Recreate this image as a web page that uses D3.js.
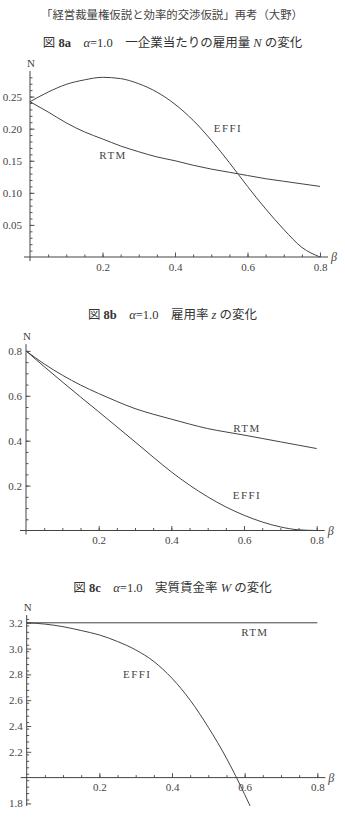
<!DOCTYPE html>
<html>
<head>
<meta charset="utf-8">
<script src="https://cdn.jsdelivr.net/npm/d3@7"></script>
<style>
  body { margin: 0; background: #fff; }
  text { font-family: "Times New Roman", "Liberation Serif", "DejaVu Serif", serif; fill: #444; }
  .tick text { font-size: 11px; fill: #444; font-family: "Times New Roman", "Liberation Serif", "DejaVu Serif", serif; }
  .jp { font-family: "Times New Roman", "Liberation Serif", "Noto Sans CJK JP", serif; }
</style>
</head>
<body>
<svg id="fig" width="345" height="834"></svg>
<script>
// beta grid used by the curves
var betaA = [0, 0.05, 0.1, 0.15, 0.2, 0.25, 0.3, 0.35, 0.4, 0.45, 0.5, 0.55, 0.6, 0.65, 0.7, 0.75, 0.8];
// Fig 8a: employment per firm N
var effiA = [0.242, 0.257, 0.269, 0.276, 0.280, 0.278, 0.270, 0.257, 0.238, 0.213, 0.182, 0.147, 0.110, 0.075, 0.043, 0.015, 0.0];
var rtmA  = [0.242, 0.226, 0.209, 0.195, 0.184, 0.173, 0.164, 0.156, 0.150, 0.143, 0.137, 0.132, 0.127, 0.122, 0.118, 0.114, 0.110];
// Fig 8b: employment rate z
var effiB = [0.8, 0.73, 0.662, 0.595, 0.529, 0.462, 0.395, 0.327, 0.261, 0.202, 0.150, 0.105, 0.068, 0.038, 0.016, 0.003, 0.0];
var rtmB  = [0.8, 0.742, 0.692, 0.648, 0.610, 0.575, 0.543, 0.518, 0.496, 0.474, 0.454, 0.439, 0.425, 0.410, 0.395, 0.380, 0.365];
// Fig 8c: real wage W
var betaC = [0, 0.05, 0.1, 0.15, 0.2, 0.25, 0.3, 0.35, 0.4, 0.45, 0.5, 0.55, 0.6, 0.615];
var effiC = [3.2, 3.19, 3.17, 3.14, 3.106, 3.055, 2.99, 2.90, 2.77, 2.60, 2.39, 2.15, 1.87, 1.78];
var betaRtmC = [0, 0.8];
var rtmC  = [3.2, 3.2];

var xTicks = [0.2, 0.4, 0.6, 0.8];
var yTicksA = [0.05, 0.10, 0.15, 0.20, 0.25];
var yTicksB = [0.2, 0.4, 0.6, 0.8];
var yTicksC = [1.8, 2.2, 2.4, 2.6, 2.8, 3.0, 3.2];

var svg = d3.select("#fig");

svg.append("text").attr("class", "jp")
    .attr("x", 172).attr("y", 15)
    .attr("text-anchor", "middle").attr("dominant-baseline", "central")
    .style("font-size", "11.4px")
    .text("「経営裁量権仮説と効率的交渉仮説」再考（大野）");

function title(y, num, rest, varName, tail) {
    var t = svg.append("text").attr("class", "jp")
        .attr("x", 172.5).attr("y", y)
        .attr("text-anchor", "middle").attr("dominant-baseline", "central")
        .style("font-size", "12.5px").style("fill", "#333");
    t.append("tspan").text("図 ");
    t.append("tspan").style("font-weight", "bold").text(num);
    t.append("tspan").text("\u3000");
    t.append("tspan").style("font-style", "italic").text("α");
    t.append("tspan").text("=1.0\u3000" + rest + " ");
    t.append("tspan").style("font-style", "italic").text(varName);
    t.append("tspan").text(" " + tail);
}

title(43, "8a", "一企業当たりの雇用量", "N", "の変化");
title(315, "8b", "雇用率", "z", "の変化");
title(588, "8c", "実質賃金率", "W", "の変化");

function chart(cfg) {
    var x = d3.scaleLinear().domain([0, 0.8]).range([cfg.x0, cfg.x1]);
    var y = d3.scaleLinear().domain([cfg.yBase, cfg.yBase + 1]).range([cfg.yPix, cfg.yPix - cfg.yScale]);
    var g = svg.append("g");
    var axisY = y(cfg.xAxisAt);

    // minor ticks
    g.append("g").attr("transform", "translate(" + x(0) + ",0)")
        .call(d3.axisLeft(y).tickValues(d3.range(cfg.yMin + cfg.yMinor, cfg.yMax, cfg.yMinor).map(function(v) { return +v.toFixed(3); }))
            .tickSizeInner(-2.5).tickSizeOuter(0).tickFormat(""))
        .call(function(s) { s.select(".domain").remove(); });
    g.append("g").attr("transform", "translate(0," + axisY + ")")
        .call(d3.axisBottom(x).tickValues(d3.range(0.05, 0.81, 0.05)).tickSizeInner(-2.5).tickSizeOuter(0).tickFormat(""))
        .call(function(s) { s.select(".domain").remove(); });

    // major ticks + labels
    g.append("g").attr("transform", "translate(" + x(0) + ",0)")
        .call(d3.axisLeft(y).tickValues(cfg.yTicks).tickSizeInner(-4.5).tickSizeOuter(0).tickPadding(cfg.yPad).tickFormat(d3.format(cfg.fmt)))
        .call(function(s) { s.select(".domain").remove(); });
    g.append("g").attr("transform", "translate(0," + axisY + ")")
        .call(d3.axisBottom(x).tickValues(xTicks).tickSizeInner(-4.5).tickSizeOuter(0).tickPadding(6).tickFormat(d3.format(".1f")))
        .call(function(s) { s.select(".domain").remove(); });
    g.selectAll("g").attr("font-family", null).attr("font-size", null);
    g.selectAll(".tick line").attr("stroke", "#555");

    // axis lines
    g.append("line").attr("x1", x(0)).attr("x2", x(0))
        .attr("y1", y(cfg.yMax)).attr("y2", cfg.yMin < cfg.xAxisAt ? y(cfg.yMin) : axisY + 4)
        .attr("stroke", "#444").attr("stroke-width", 1);
    g.append("line").attr("x1", x(0) - 6).attr("x2", x(0.8) + 8)
        .attr("y1", axisY).attr("y2", axisY)
        .attr("stroke", "#444").attr("stroke-width", 1);

    g.append("text").attr("x", x(0) + 1).attr("y", y(cfg.yMax) - 8)
        .attr("text-anchor", "middle").attr("dominant-baseline", "central")
        .style("font-size", "11px").text("N");
    g.append("text").attr("x", x(0.8) + 14).attr("y", axisY)
        .attr("text-anchor", "middle").attr("dominant-baseline", "central")
        .style("font-size", "12px").style("font-style", "italic").text("β");

    var line = d3.line()
        .x(function(d) { return x(d[0]); })
        .y(function(d) { return y(d[1]); })
        .curve(d3.curveMonotoneX);

    cfg.series.forEach(function(s) {
        g.append("path")
            .datum(d3.zip(s.beta, s.values))
            .attr("d", line)
            .attr("fill", "none")
            .attr("stroke", "#444")
            .attr("stroke-width", 1);
        g.append("text")
            .attr("x", x(s.label[0])).attr("y", y(s.label[1]))
            .attr("text-anchor", "middle").attr("dominant-baseline", "central")
            .style("font-size", "11px").style("letter-spacing", "1.4px")
            .text(s.name);
    });
}

chart({
    x0: 30, x1: 320, yBase: 0, yPix: 257, yScale: 641.7,
    yMin: 0, yMax: 0.29, yMinor: 0.01, xAxisAt: 0, yTicks: yTicksA, fmt: ".2f", yPad: 8,
    series: [
        { name: "EFFI", beta: betaA, values: effiA, label: [0.546, 0.201] },
        { name: "RTM", beta: betaA, values: rtmA, label: [0.229, 0.159] }
    ]
});

chart({
    x0: 26, x1: 316.7, yBase: 0, yPix: 530.5, yScale: 224.5,
    yMin: 0, yMax: 0.83, yMinor: 0.05, xAxisAt: 0, yTicks: yTicksB, fmt: ".1f", yPad: 4,
    series: [
        { name: "RTM", beta: betaA, values: rtmB, label: [0.608, 0.457] },
        { name: "EFFI", beta: betaA, values: effiB, label: [0.608, 0.158] }
    ]
});

chart({
    x0: 26.7, x1: 317.3, yBase: 2, yPix: 777.6, yScale: 129,
    yMin: 1.78, yMax: 3.26, yMinor: 0.05, xAxisAt: 2.0, yTicks: yTicksC, fmt: ".1f", yPad: 4,
    series: [
        { name: "RTM", beta: betaRtmC, values: rtmC, label: [0.628, 3.131] },
        { name: "EFFI", beta: betaC, values: effiC, label: [0.304, 2.803] }
    ]
});
</script>
</body>
</html>
